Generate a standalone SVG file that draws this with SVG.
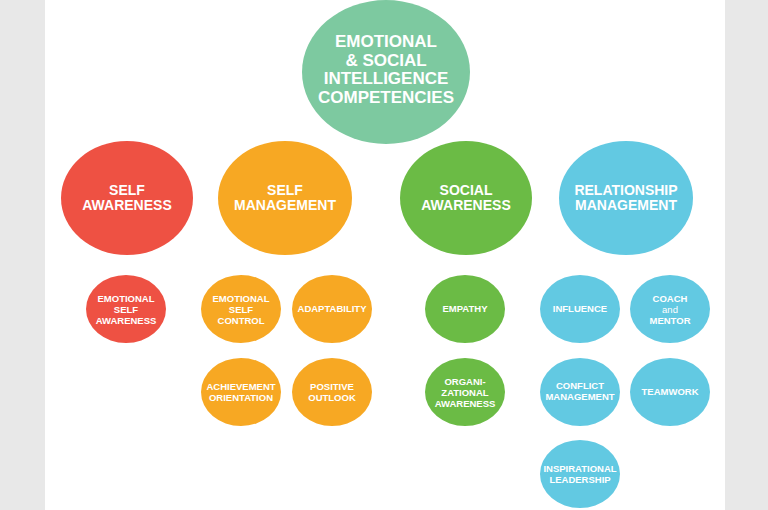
<svg xmlns="http://www.w3.org/2000/svg" width="768" height="510" viewBox="0 0 768 510">
<style>
text{fill:#fff;font-family:"Liberation Sans Narrow","Liberation Sans",Arial,sans-serif;font-weight:bold;text-anchor:middle}
.t{font-size:17px}.m{font-size:14px}.s{font-size:9.5px}
.top{fill:#7DC9A0}.r{fill:#EE5143}.o{fill:#F7A823}.g{fill:#6BBB45}.b{fill:#62C9E2}
</style>
<rect width="768" height="510" fill="#E8E8E8"/>
<rect x="45" y="0" width="680" height="510" fill="#fff"/>
<g id="connectors"/>
<g id="root"><ellipse class="top" cx="386" cy="72" rx="84" ry="72"/>
<text class="t" x="386" y="47">EMOTIONAL</text><text class="t" x="386" y="66">&amp; SOCIAL</text><text class="t" x="386" y="84">INTELLIGENCE</text><text class="t" x="386" y="103">COMPETENCIES</text></g>
<g id="self-awareness"><ellipse class="r" cx="127" cy="198" rx="66" ry="57"/><text class="m" x="127" y="195">SELF</text><text class="m" x="127" y="210">AWARENESS</text></g>
<g id="self-management"><ellipse class="o" cx="285" cy="198" rx="67" ry="57"/><text class="m" x="285" y="195">SELF</text><text class="m" x="285" y="210">MANAGEMENT</text></g>
<g id="social-awareness"><ellipse class="g" cx="466" cy="198" rx="66" ry="57"/><text class="m" x="466" y="195">SOCIAL</text><text class="m" x="466" y="210">AWARENESS</text></g>
<g id="relationship-management"><ellipse class="b" cx="626" cy="198" rx="67" ry="57"/><text class="m" x="626" y="195">RELATIONSHIP</text><text class="m" x="626" y="210">MANAGEMENT</text></g>
<g id="emotional-self-awareness"><ellipse class="r" cx="126" cy="309" rx="40" ry="34"/><text class="s" x="126" y="302">EMOTIONAL</text><text class="s" x="126" y="313">SELF</text><text class="s" x="126" y="324">AWARENESS</text></g>
<g id="emotional-self-control"><ellipse class="o" cx="241" cy="309" rx="40" ry="34"/><text class="s" x="241" y="302">EMOTIONAL</text><text class="s" x="241" y="313">SELF</text><text class="s" x="241" y="324">CONTROL</text></g>
<g id="adaptability"><ellipse class="o" cx="332" cy="309" rx="40" ry="34"/><text class="s" x="332" y="312">ADAPTABILITY</text></g>
<g id="achievement"><ellipse class="o" cx="241" cy="392" rx="40" ry="34"/><text class="s" x="241" y="390">ACHIEVEMENT</text><text class="s" x="241" y="401">ORIENTATION</text></g>
<g id="positive-outlook"><ellipse class="o" cx="332" cy="392" rx="40" ry="34"/><text class="s" x="332" y="390">POSITIVE</text><text class="s" x="332" y="401">OUTLOOK</text></g>
<g id="empathy"><ellipse class="g" cx="465" cy="309" rx="40" ry="34"/><text class="s" x="465" y="312">EMPATHY</text></g>
<g id="organizational-awareness"><ellipse class="g" cx="465" cy="392" rx="40" ry="34"/><text class="s" x="465" y="385">ORGANI-</text><text class="s" x="465" y="396">ZATIONAL</text><text class="s" x="465" y="407">AWARENESS</text></g>
<g id="influence"><ellipse class="b" cx="580" cy="309" rx="40" ry="34"/><text class="s" x="580" y="312">INFLUENCE</text></g>
<g id="coach"><ellipse class="b" cx="670" cy="309" rx="40" ry="34"/><text class="s" x="670" y="302">COACH</text><text class="s" x="670" y="313" style="font-weight:normal">and</text><text class="s" x="670" y="324">MENTOR</text></g>
<g id="conflict"><ellipse class="b" cx="580" cy="392" rx="40" ry="34"/><text class="s" x="580" y="389">CONFLICT</text><text class="s" x="580" y="400">MANAGEMENT</text></g>
<g id="teamwork"><ellipse class="b" cx="670" cy="392" rx="40" ry="34"/><text class="s" x="670" y="395">TEAMWORK</text></g>
<g id="inspirational"><ellipse class="b" cx="580" cy="474" rx="40" ry="34"/><text class="s" x="580" y="472">INSPIRATIONAL</text><text class="s" x="580" y="483">LEADERSHIP</text></g>
</svg>
